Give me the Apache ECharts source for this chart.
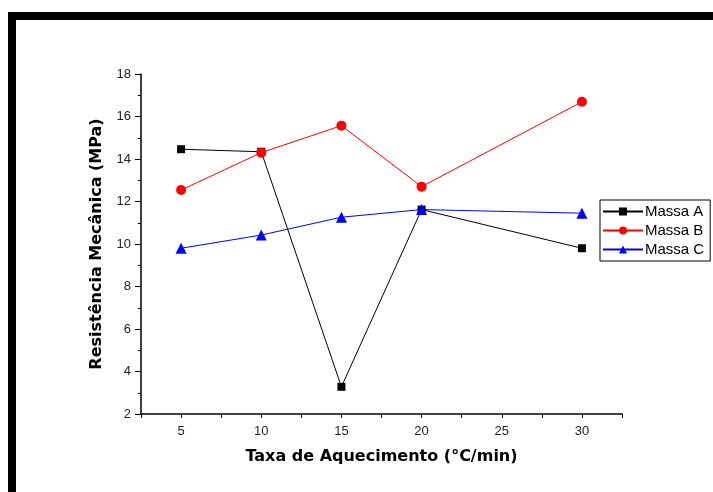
<!DOCTYPE html>
<html><head><meta charset="utf-8">
<script src="https://cdn.jsdelivr.net/npm/echarts@6/dist/echarts.min.js"></script>
<style>html,body{margin:0;padding:0;background:#fff}#c{width:713px;height:492px}</style>
</head><body><div id="c"></div>
<script>
const xValues = [5, 10, 15, 20, 30];
const massaA = [14.46, 14.34, 3.28, 11.62, 9.8];
const massaB = [12.54, 14.3, 15.57, 12.7, 16.69];
const massaC = [9.8, 10.42, 11.26, 11.62, 11.45];
const seriesNames = ['Massa A', 'Massa B', 'Massa C'];
const xTitle = 'Taxa de Aquecimento (°C/min)';
const yTitle = 'Resistência Mecânica (MPa)';

const pairs = arr => xValues.map((x, i) => [x, arr[i]]);
const chart = echarts.init(document.getElementById('c'), null, {renderer: 'canvas'});
const mk = (name, data, color, symbol, size) => ({
  name, type: 'line', data: pairs(data), symbol, symbolSize: size,
  lineStyle: {color, width: 1}, itemStyle: {color}, animation: false
});
chart.setOption({
  backgroundColor: '#fff',
  animation: false,
  graphic: [
    {type: 'rect', shape: {x: 8, y: 12, width: 705, height: 8}, style: {fill: '#000'}},
    {type: 'rect', shape: {x: 8, y: 12, width: 8, height: 480}, style: {fill: '#000'}}
  ],
  grid: {left: 141, top: 74, right: 91, bottom: 78},
  legend: {
    orient: 'vertical', left: 600, top: 200, itemWidth: 40, itemHeight: 10, itemGap: 4,
    borderColor: '#000', borderWidth: 1, padding: [4, 6, 4, 2], borderRadius: 0,
    textStyle: {fontFamily: 'Liberation Sans', fontSize: 15, color: '#000', padding: [0, 0, 0, -3]},
    data: seriesNames
  },
  xAxis: {
    type: 'value', min: 2.5, max: 32.5, interval: 2.5,
    name: xTitle, nameLocation: 'middle', nameGap: 35,
    nameTextStyle: {fontFamily: 'DejaVu Sans', fontWeight: 'bold', fontSize: 16, color: '#000'},
    axisLine: {lineStyle: {color: '#000', width: 1.5}},
    axisTick: {length: 4, inside: false, lineStyle: {color: '#000'}},
    axisLabel: {fontFamily: 'Liberation Sans', fontSize: 13, color: '#222', margin: 11,
      formatter: v => (Math.abs(v % 5) < 1e-9 ? String(v) : '')},
    splitLine: {show: false}
  },
  yAxis: {
    type: 'value', min: 2, max: 18, interval: 2,
    name: yTitle, nameLocation: 'middle', nameGap: 36,
    nameTextStyle: {fontFamily: 'DejaVu Sans', fontWeight: 'bold', fontSize: 16, color: '#000'},
    axisLine: {show: true, lineStyle: {color: '#000', width: 1.5}},
    axisTick: {show: true, length: 6, lineStyle: {color: '#000'}},
    minorTick: {show: true, splitNumber: 2, length: 3, lineStyle: {color: '#000'}},
    axisLabel: {fontFamily: 'Liberation Sans', fontSize: 13, color: '#222', margin: 10},
    splitLine: {show: false}
  },
  series: [
    mk(seriesNames[0], massaA, '#000000', 'rect', 8),
    mk(seriesNames[1], massaB, '#ff0000', 'circle', 10),
    mk(seriesNames[2], massaC, '#0000ff', 'triangle', 11)
  ]
});
</script></body></html>
